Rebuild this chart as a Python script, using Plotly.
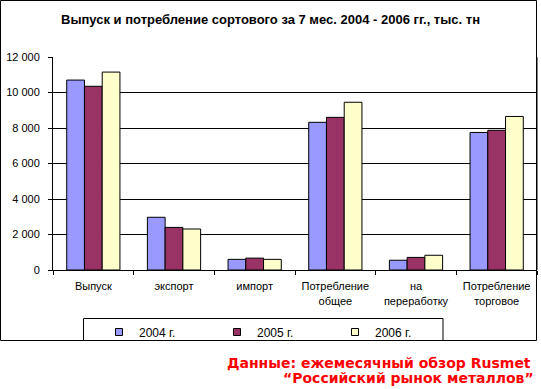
import plotly.graph_objects as go

categories = ["Выпуск", "экспорт", "импорт", "Потребление<br>общее", "на<br>переработку", "Потребление<br>торговое"]
series_names = ["2004 г.", "2005 г.", "2006 г."]
values_2004 = [10700, 2970, 600, 8320, 550, 7750]
values_2005 = [10350, 2400, 670, 8600, 710, 7870]
values_2006 = [11150, 2310, 600, 9450, 830, 8650]
y_ticks = [0, 2000, 4000, 6000, 8000, 10000, 12000]
colors = ["#9999FF", "#993366", "#FFFFCC"]

title_text = "Выпуск и потребление сортового за 7 мес. 2004 - 2006 гг., тыс. тн"
source_line1 = "Данные: ежемесячный обзор Rusmet"
source_line2 = "“Российский рынок металлов”"

W, H = 541, 389
L, R, T, B = 53, 537, 57, 270  # plot area pixel bounds

def px_x(p):
    return (p - L) / (R - L)

def px_y(p):
    return (B - p) / (B - T)

fig = go.Figure()
all_vals = [values_2004, values_2005, values_2006]
for name, vals, col in zip(series_names, all_vals, colors):
    fig.add_trace(go.Bar(
        x=categories, y=vals, name=name, marker=dict(color=col, line=dict(color="black", width=1)),
        showlegend=False, hoverinfo="skip"))
# legend entries
for name, col in zip(series_names, colors):
    fig.add_trace(go.Scatter(
        x=[None], y=[None], mode="markers", name=name,
        marker=dict(symbol="square", size=7, color=col, line=dict(color="black", width=1))))

font_main = "Arial, Liberation Sans, sans-serif"

fig.update_layout(
    width=W, height=H,
    margin=dict(l=L, r=W - R, t=T, b=H - B, pad=0),
    paper_bgcolor="white", plot_bgcolor="white",
    barmode="group", bargap=0.34, bargroupgap=0,
    separators=", ",
    font=dict(family=font_main, size=11, color="black"),
    title=dict(text="<b>" + title_text + "</b>", x=0.5, xanchor="center",
               y=1 - 19.5 / H, yanchor="middle", yref="container",
               font=dict(family=font_main, size=13, color="black")),
    xaxis=dict(showline=True, linecolor="black", linewidth=1, ticks="outside", ticklen=4,
               tickcolor="black", tickson="boundaries", showgrid=False,
               tickfont=dict(size=11, color="black"), ticklabelstandoff=6, fixedrange=True),
    yaxis=dict(range=[0, 12000], tickvals=y_ticks, tickformat=",d", showline=True,
               linecolor="black", linewidth=1, ticks="outside", ticklen=4, tickcolor="black",
               showgrid=True, gridcolor="black", gridwidth=1, zeroline=False,
               tickfont=dict(size=11, color="black"), ticklabelstandoff=6),
    legend=dict(orientation="h", x=px_x(99), xanchor="left", y=px_y(317.5), yanchor="top",
                bgcolor="rgba(0,0,0,0)", borderwidth=0, font=dict(size=12),
                entrywidth=73, entrywidthmode="pixels", itemwidth=30),
    showlegend=True,
)

shapes = [
    # outer chart border
    dict(type="rect", xref="paper", yref="paper", x0=px_x(0.5), x1=px_x(536.5),
         y0=px_y(340.5), y1=px_y(0.5), line=dict(color="black", width=1), layer="above"),
    # legend box
    dict(type="rect", xref="paper", yref="paper", x0=px_x(83.5), x1=px_x(443),
         y0=px_y(340.5), y1=px_y(318.5), line=dict(color="black", width=1), layer="above"),
    # right edge of plot area
    dict(type="line", xref="paper", yref="paper", x0=1, x1=1, y0=0, y1=1,
         line=dict(color="black", width=1)),
]
fig.update_layout(shapes=shapes)

src_font = dict(family="DejaVu Sans, Verdana, sans-serif", size=14, color="#FF0000")
fig.add_annotation(text="<b>" + source_line1 + "</b>", xref="paper", yref="paper",
                   x=px_x(533), y=px_y(363), xanchor="right", yanchor="middle",
                   showarrow=False, font=src_font)
fig.add_annotation(text="<b>" + source_line2 + "</b>", xref="paper", yref="paper",
                   x=px_x(536), y=px_y(378), xanchor="right", yanchor="middle",
                   showarrow=False, font=src_font)

fig.write_html("out.html", config={"displayModeBar": False},
               post_script="document.body.style.margin='0';document.body.style.overflow='hidden';")
